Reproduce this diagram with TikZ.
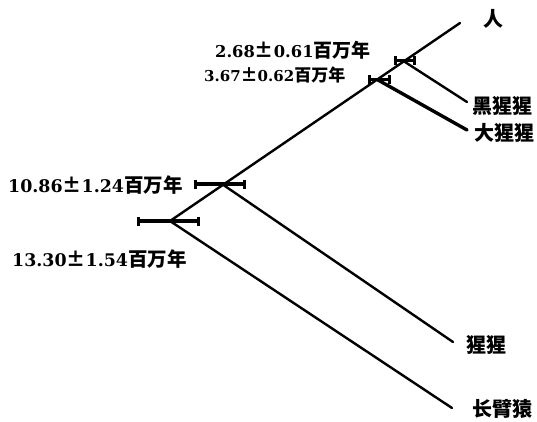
\documentclass[tikz,border=0pt]{standalone}
\usepackage{fontspec}
\setmainfont{DejaVu Serif}
\newfontfamily\cjk{Noto Sans CJK SC}
\usetikzlibrary{arrows.meta}
\newcommand{\ageyr}[1][19]{{\fontsize{#1}{#1}\selectfont\cjk\bfseries 百万年}}
\newcommand{\pmsign}[1][19]{{\fontsize{#1}{#1}\selectfont\cjk\bfseries ±}}
\begin{document}
\begin{tikzpicture}[x=1pt,y=-1pt,
  branch/.style={line width=2.4pt, line cap=round},
  ebar/.style={line width=3.6pt, {Bar[width=9pt,line width=3.2pt]}-{Bar[width=9pt,line width=3.2pt]}},
  tip/.style={anchor=west, inner sep=0pt, font=\fontsize{20}{20}\selectfont\cjk\bfseries},
  age/.style={anchor=west, inner sep=0pt, font=\fontsize{17.4}{17.4}\selectfont\bfseries},
  agetop/.style={anchor=west, inner sep=0pt, font=\fontsize{16.3}{16.3}\selectfont\bfseries},
  agemid/.style={anchor=west, inner sep=0pt, font=\fontsize{15}{15}\selectfont\bfseries}]
\useasboundingbox (0,0) rectangle (537,422);
% branch points
\coordinate (root) at (170,221);
\coordinate (n2) at (222,184);
\coordinate (n3) at (378,80);
\coordinate (n4) at (405,62);
% tips
\coordinate (hum) at (460,23);
\coordinate (chi) at (467,102);
\coordinate (gor) at (467,130);
\coordinate (ora) at (453,342);
\coordinate (gib) at (452,408);
% tree
\draw[branch] (root) -- (hum);
\draw[branch] (n4) -- (chi);
\draw[branch, line width=3.4pt] (n3) -- (gor);
\draw[branch] (n2) -- (ora);
\draw[branch] (root) -- (gib);
% error bars
\coordinate (e1a) at (137,221); \coordinate (e1b) at (200,221);
\coordinate (e2a) at (194,184); \coordinate (e2b) at (246,184);
\coordinate (e3a) at (368,80);  \coordinate (e3b) at (391,80);
\coordinate (e4a) at (394,61);  \coordinate (e4b) at (416,61);
\draw[ebar] (e1a) -- (e1b);
\draw[ebar] (e2a) -- (e2b);
\draw[ebar, line width=3pt] (e3a) -- (e3b);
\draw[ebar, line width=3pt] (e4a) -- (e4b);
% tip labels
\node[tip] (lhum) at (483,19) {人};
\node[tip] (lchi) at (472,106) {黑猩猩};
\node[tip] (lgor) at (474,133) {大猩猩};
\node[tip] (lora) at (466,345) {猩猩};
\node[tip] (lgib) at (472,409) {长臂猿};
% age labels
\node[agetop] (a4) at (215,50) {2.68\pmsign0.61\ageyr};
\node[agemid] (a3) at (204,75) {3.67\pmsign[17]0.62\ageyr[17]};
\node[age] (a2) at (8,185) {10.86\pmsign1.24\ageyr[19.5]};
\node[age] (a1) at (12,259) {13.30\pmsign1.54\ageyr[19.5]};
\end{tikzpicture}
\end{document}
